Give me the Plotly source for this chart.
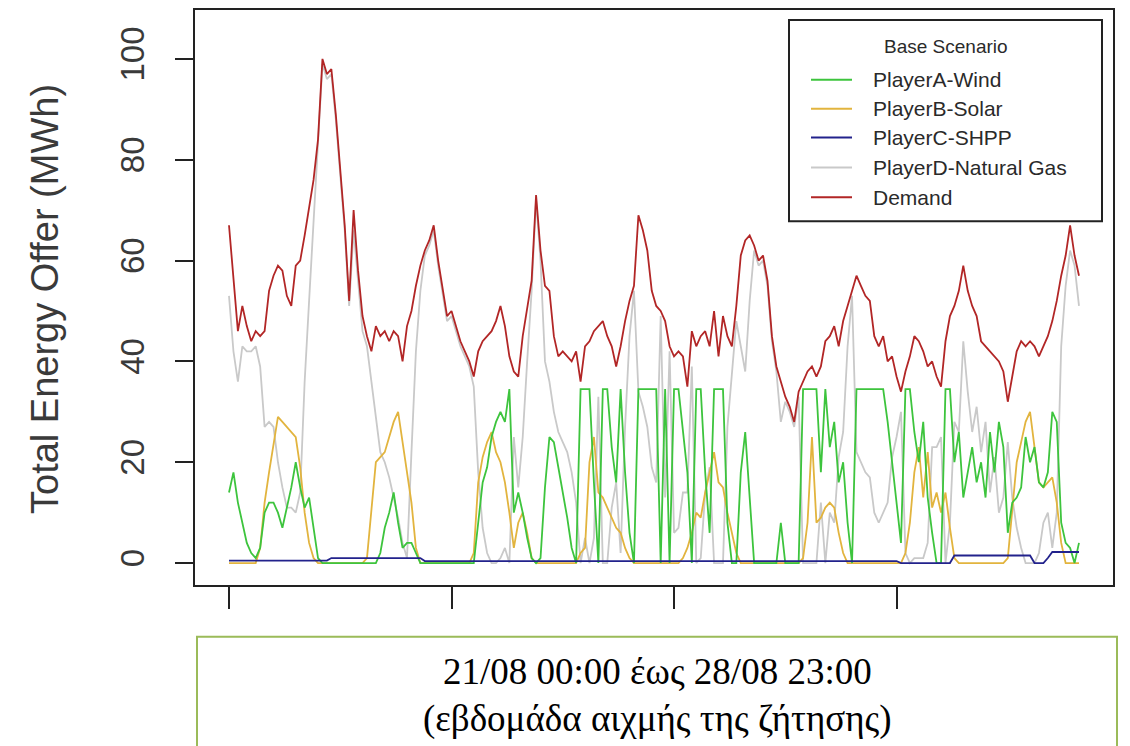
import plotly.graph_objects as go

# ---------------- data (hourly, 21/08 00:00 .. 28/08 23:00) ----------------
hours = list(range(192))

demand = [
    67, 57, 46, 51, 47, 44, 46, 45, 46, 54, 57, 59, 58, 53, 51, 59, 60, 65, 71, 76, 84, 100, 97, 98,
    89, 78, 67, 52, 70, 58, 49, 45, 42, 47, 45, 46, 44, 46, 45, 40, 47, 50, 55, 59, 62, 64, 67, 60,
    54, 49, 50, 47, 44, 42, 40, 37, 42, 44, 45, 46, 48, 51, 47, 41, 38, 37, 45, 51, 56, 73, 62, 55,
    54, 45, 41, 42, 41, 40, 42, 36, 43, 44, 46, 47, 48, 45, 43, 39, 43, 48, 52, 55, 69, 66, 62, 54,
    51, 50, 48, 43, 41, 42, 41, 35, 46, 43, 45, 46, 43, 50, 41, 49, 45, 43, 51, 61, 64, 65, 63, 60,
    61, 56, 45, 39, 36, 33, 31, 28, 34, 36, 38, 39, 37, 39, 44, 45, 47, 43, 48, 51, 54, 57, 55, 53,
    52, 45, 43, 45, 40, 41, 37, 34, 38, 41, 45, 44, 42, 39, 40, 37, 35, 44, 49, 51, 54, 59, 54, 51,
    49, 44, 43, 42, 41, 40, 38, 32, 37, 42, 44, 43, 44, 43, 41, 43, 45, 48, 52, 57, 61, 67, 61, 57,
]

wind = [
    14, 18, 12, 8, 4, 2, 1, 3, 10, 12, 12, 10, 7, 11, 15, 20, 15, 11, 13, 7, 1, 0, 0, 0,
    0, 0, 0, 0, 0, 0, 0, 0, 0, 0, 2, 7, 10, 14, 8, 3, 4, 4, 2, 0, 0, 0, 0, 0,
    0, 0, 0, 0, 0, 0, 0, 0, 8, 16, 19, 25, 28, 30, 28, 34.5, 10, 14, 10, 5, 1, 0, 1, 15,
    25, 24, 19, 14, 9, 3, 0, 34.5, 34.5, 34.5, 16, 0, 34.5, 34.5, 23, 16, 34.5, 18, 6, 0, 34.5, 34.5, 34.5, 34.5,
    34.5, 0, 34.5, 0, 34.5, 34.5, 26, 18, 0, 34.5, 34.5, 18, 6, 34.5, 34.5, 34.5, 8, 0, 0, 18, 26, 13, 0, 0,
    0, 0, 0, 0, 8, 0, 0, 0, 0, 34.5, 34.5, 34.5, 34.5, 18, 34.5, 23, 28, 16, 20, 8, 0, 34.5, 34.5, 34.5,
    34.5, 34.5, 34.5, 34.5, 28, 20, 12, 4, 34.5, 34.5, 26, 20, 28, 13, 6, 0, 0, 34.5, 34.5, 20, 26, 13, 18, 23,
    16, 20, 13, 26, 18, 28, 23, 6, 12, 13, 15, 25, 20, 23, 16, 15, 18, 30, 28, 8, 4, 3, 0, 4,
]

solar = [
    0, 0, 0, 0, 0, 0, 0, 3, 12, 18, 24, 29, 28, 27, 26, 25, 19, 10, 4, 1, 0, 0, 0, 0,
    0, 0, 0, 0, 0, 0, 0, 1, 10, 20, 21, 22, 25, 28, 30, 24, 18, 12, 3, 0, 0, 0, 0, 0,
    0, 0, 0, 0, 0, 0, 0, 2, 16, 21, 24, 26, 22, 20, 16, 10, 3, 8, 10, 6, 1, 0, 0, 0,
    0, 0, 0, 0, 0, 0, 0, 2, 3, 20, 25, 14, 13, 11, 9, 7, 6, 3, 1, 0, 0, 0, 0, 0,
    0, 0, 0, 0, 0, 0, 1, 3, 6, 10, 9, 14, 18, 22, 16, 15, 10, 6, 2, 0, 0, 0, 0, 0,
    0, 0, 0, 0, 0, 0, 0, 0, 0, 1, 8, 25, 8, 9, 11, 12, 11, 6, 2, 0, 0, 0, 0, 0,
    0, 0, 0, 0, 0, 0, 0, 0, 2, 8, 18, 23, 13, 22, 11, 14, 10, 14, 7, 1, 0, 0, 0, 0,
    0, 0, 0, 0, 0, 0, 0, 1, 10, 20, 24, 28, 30, 23, 16, 15, 16, 17, 12, 4, 0, 0, 0, 0,
]

shpp = [
    0.5, 0.5, 0.5, 0.5, 0.5, 0.5, 0.5, 0.5, 0.5, 0.5, 0.5, 0.5, 0.5, 0.5, 0.5, 0.5, 0.5, 0.5, 0.5, 0.5, 0.5, 0.5, 0.5, 1.0,
    1.0, 1.0, 1.0, 1.0, 1.0, 1.0, 1.0, 1.0, 1.0, 1.0, 1.0, 1.0, 1.0, 1.0, 1.0, 1.0, 1.0, 1.0, 1.0, 1.0, 0.4, 0.4, 0.4, 0.4,
    0.4, 0.4, 0.4, 0.4, 0.4, 0.4, 0.4, 0.4, 0.4, 0.4, 0.4, 0.4, 0.4, 0.4, 0.4, 0.4, 0.4, 0.4, 0.4, 0.4, 0.4, 0.4, 0.4, 0.4,
    0.4, 0.4, 0.4, 0.4, 0.4, 0.4, 0.4, 0.4, 0.4, 0.4, 0.4, 0.4, 0.4, 0.4, 0.4, 0.4, 0.4, 0.4, 0.4, 0.4, 0.4, 0.4, 0.4, 0.4,
    0.4, 0.4, 0.4, 0.4, 0.4, 0.4, 0.4, 0.4, 0.4, 0.4, 0.4, 0.4, 0.4, 0.4, 0.4, 0.4, 0.4, 0.4, 0.4, 0.4, 0.4, 0.4, 0.4, 0.4,
    0.4, 0.4, 0.4, 0.4, 0.4, 0.4, 0.4, 0.4, 0.4, 0.4, 0.4, 0.4, 0.4, 0.4, 0.4, 0.4, 0.4, 0.4, 0.4, 0.4, 0.4, 0.4, 0.4, 0.4,
    0.4, 0.4, 0.4, 0.4, 0.4, 0.4, 0.4, 0, 0, 0, 0, 0, 0, 0, 0, 0, 0, 0, 0, 1.5, 1.5, 1.5, 1.5, 1.5,
    1.5, 1.5, 1.5, 1.5, 1.5, 1.5, 1.5, 1.5, 1.5, 1.5, 1.5, 1.5, 1.5, 0, 0, 0, 1.0, 2.2, 2.2, 2.2, 2.2, 2.2, 2.2, 2.2,
]

gas = [
    53, 42, 36, 43, 42, 42, 43, 39, 27, 28, 27, 20, 15, 11, 11, 10, 14, 36, 52, 68, 82, 99, 96, 97,
    88, 77, 66, 51, 66, 56, 46, 43, 36, 28, 22, 20, 17, 13, 9, 4, 1, 22, 42, 54, 61, 63, 66, 59,
    53, 48, 49, 46, 43, 41, 39, 35, 18, 7, 2, 0, 0, 1, 3, 0, 25, 15, 25, 40, 54, 72, 60, 40,
    36, 30, 26, 24, 22, 18, 12, 0, 5, 0, 5, 33, 0, 0, 11, 16, 2, 27, 45, 54, 34, 31, 27, 19,
    16, 49, 13, 42, 6, 7, 14, 14, 39, 0, 1, 14, 19, 0, 0, 0, 27, 37, 48, 43, 38, 52, 62, 59,
    60, 55, 44, 38, 28, 32, 30, 27, 33, 0, 0, 0, 0, 12, 0, 10, 8, 21, 26, 43, 53, 22, 20, 18,
    17, 10, 8, 10, 12, 21, 25, 30, 2, 0, 1, 1, 1, 4, 23, 23, 25, 0, 8, 28, 26, 44, 34, 26,
    31, 22, 28, 14, 21, 10, 13, 24, 13, 7, 3, 0, 0, 0, 2, 8, 10, 3, 10, 43, 55, 62, 59, 51,
]

series_names = ["PlayerA-Wind", "PlayerB-Solar", "PlayerC-SHPP", "PlayerD-Natural Gas", "Demand"]
series_values = [wind, solar, shpp, gas, demand]
series_colors = ["#3DC43D", "#E2B43E", "#22228C", "#C9C9C9", "#B22626"]
draw_order = [3, 1, 0, 2, 4]  # gas, solar, wind, shpp, demand

x_ticks = [0, 50, 100, 150]
y_ticks = [0, 20, 40, 60, 80, 100]

legend_title = "Base Scenario"
y_title = "Total Energy Offer (MWh)"
caption_1 = "21/08 00:00 έως 28/08 23:00"
caption_2 = "(εβδομάδα αιχμής της ζήτησης)"

# ---------------- figure ----------------
W, H = 1130, 746
L, R, T, B = 195, 17, 8, 161
pw, ph = W - L - R, H - T - B


def px(xp):
    return (xp - L) / pw


def py(yp):
    return (H - B - yp) / ph


fig = go.Figure()
for k in draw_order:
    fig.add_trace(go.Scatter(
        x=hours, y=series_values[k], mode="lines", name=series_names[k],
        line=dict(color=series_colors[k], width=1.8), showlegend=False,
    ))

sans = "Liberation Sans, Arial, sans-serif"
serif = "Liberation Serif, Times New Roman, serif"

fig.update_layout(
    width=W, height=H,
    margin=dict(l=L, r=R, t=T, b=B, pad=0),
    paper_bgcolor="white", plot_bgcolor="white",
    showlegend=False,
    xaxis=dict(
        range=[-7.64, 198.64], tickvals=x_ticks, showticklabels=False,
        ticks="outside", ticklen=22, tickwidth=1.5, tickcolor="#222",
        showline=True, mirror=True, linecolor="#222", linewidth=2,
        showgrid=False, zeroline=False,
    ),
    yaxis=dict(
        range=[-4.35, 109.7], tickvals=y_ticks, tickangle=-90,
        ticks="outside", ticklen=18, tickwidth=1.5, tickcolor="#222",
        tickfont=dict(family=sans, size=33, color="#3a3a3a"),
        ticklabelstandoff=18,
        showline=True, mirror=True, linecolor="#222", linewidth=2,
        showgrid=False, zeroline=False,
    ),
)

# y-axis title
fig.add_annotation(
    xref="paper", yref="paper", x=px(45), y=py(298), text=y_title,
    textangle=-90, showarrow=False, xanchor="center", yanchor="middle",
    font=dict(family=sans, size=38, color="#3a3a3a"),
)

# legend box (drawn by hand to mimic base-R legend)
fig.add_shape(type="rect", xref="paper", yref="paper",
              x0=px(789), x1=px(1102), y0=py(220), y1=py(18),
              line=dict(color="#222", width=2), fillcolor="white", layer="above")
fig.add_annotation(xref="paper", yref="paper", x=px(946), y=py(45), text=legend_title,
                   showarrow=False, xanchor="center", yanchor="middle",
                   font=dict(family=sans, size=19, color="#2a2a2a"))
row_y = [78, 107, 136, 166, 196]
for k, yy in enumerate(row_y):
    fig.add_shape(type="line", xref="paper", yref="paper",
                  x0=px(811), x1=px(852), y0=py(yy), y1=py(yy),
                  line=dict(color=series_colors[k], width=2), layer="above")
    fig.add_annotation(xref="paper", yref="paper", x=px(871), y=py(yy), text=series_names[k],
                       showarrow=False, xanchor="left", yanchor="middle",
                       font=dict(family=sans, size=21, color="#2a2a2a"))

# caption box below the chart
fig.add_shape(type="rect", xref="paper", yref="paper",
              x0=px(197), x1=px(1117), y0=py(770), y1=py(637),
              line=dict(color="#9BBB59", width=2), fillcolor="rgba(0,0,0,0)", layer="above")
fig.add_annotation(xref="paper", yref="paper", x=px(657), y=py(672), text=caption_1,
                   showarrow=False, xanchor="center", yanchor="middle",
                   font=dict(family=serif, size=37, color="black"))
fig.add_annotation(xref="paper", yref="paper", x=px(657), y=py(719), text=caption_2,
                   showarrow=False, xanchor="center", yanchor="middle",
                   font=dict(family=serif, size=37, color="black"))

fig.write_html("out.html")
